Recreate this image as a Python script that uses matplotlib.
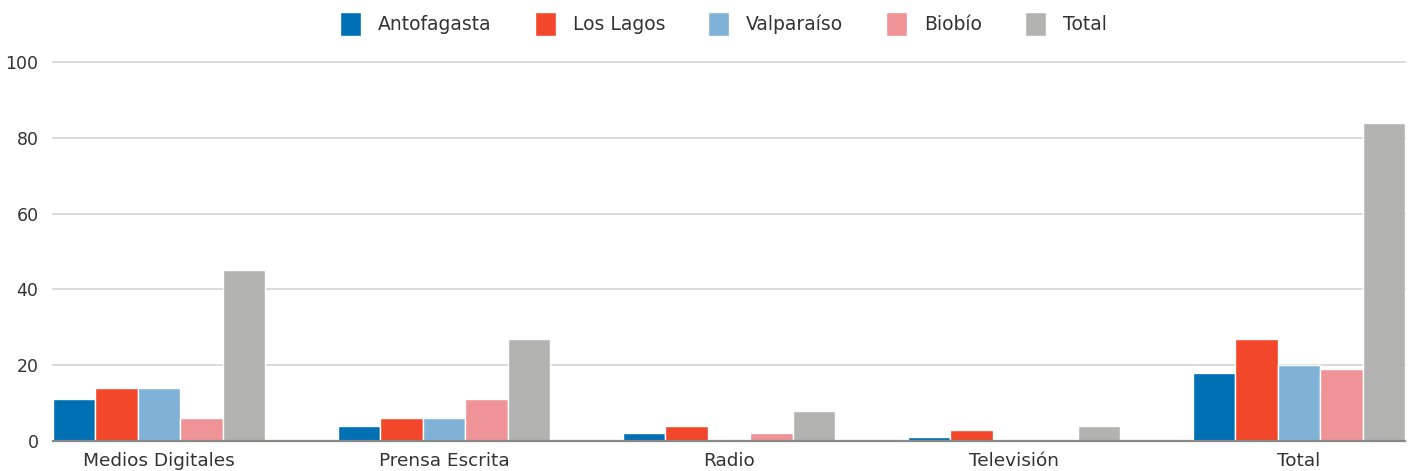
import matplotlib
matplotlib.use("Agg")
import matplotlib.pyplot as plt
import numpy as np

categories = ["Medios Digitales", "Prensa Escrita", "Radio", "Televisión", "Total"]
series_names = ["Antofagasta", "Los Lagos", "Valparaíso", "Biobío", "Total"]
antofagasta = [11, 4, 2, 1, 18]
los_lagos = [14, 6, 4, 3, 27]
valparaiso = [14, 6, 0, 0, 20]
biobio = [6, 11, 2, 0, 19]
total = [45, 27, 8, 4, 84]
series_values = [antofagasta, los_lagos, valparaiso, biobio, total]
colors = ["#0070b5", "#f2472a", "#7fb2d6", "#ef9396", "#b2b2b1"]
yticks = [0, 20, 40, 60, 80, 100]

plt.rcParams['font.family'] = ['DejaVu Sans']
text_color = "#333333"

fig = plt.figure(figsize=(14.09, 4.71), dpi=100)
ax = fig.add_axes([53/1409, 1-441/471, (1405-53)/1409, (441-62)/471])

x = np.arange(len(categories))
w = 0.1488
for i, (name, vals, c) in enumerate(zip(series_names, series_values, colors)):
    ax.bar(x + (i - 2) * w, vals, width=w, color=c, edgecolor="white",
           linewidth=1.0, label=name, zorder=3)

ax.set_xlim(-2.5 * w, len(categories) - 1 + 2.5 * w)
ax.set_ylim(0, 100)
ax.set_yticks(yticks)
ax.set_xticks(x)
ax.set_xticklabels(categories)
ax.tick_params(axis='x', length=0, labelsize=13.3, colors=text_color, pad=8)
ax.tick_params(axis='y', length=0, labelsize=12.5, colors=text_color, pad=10.5)
ax.grid(axis='y', color="#d4d4d4", linewidth=1.2, zorder=0)
for gl in ax.get_ygridlines():
    gl.set_clip_on(False)
for s in ["top", "right", "left"]:
    ax.spines[s].set_visible(False)
ax.spines["bottom"].set_color("#888888")
ax.spines["bottom"].set_linewidth(1.6)
ax.spines["bottom"].set_zorder(4)

leg = fig.legend(loc="center", bbox_to_anchor=(0.5135, 1 - 24/471), ncol=5,
                 frameon=False, fontsize=13.5, handlelength=1.12, handleheight=1.6,
                 columnspacing=2.3, handletextpad=0.9, borderaxespad=0.0)
for t in leg.get_texts():
    t.set_color(text_color)

fig.savefig("out.png", dpi=100)
